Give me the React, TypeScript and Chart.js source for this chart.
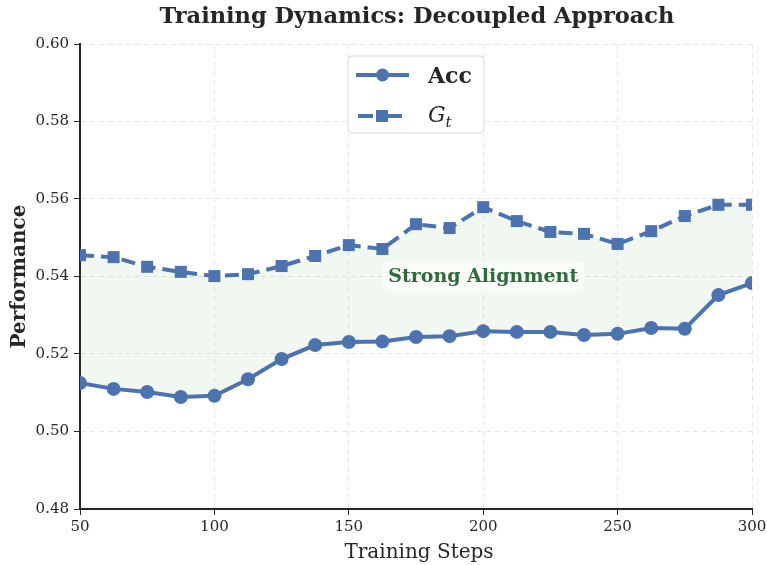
import React, { useEffect, useRef } from "react";
import { Chart, registerables } from "chart.js";

Chart.register(...registerables);

const steps = [50, 62.5, 75, 87.5, 100, 112.5, 125, 137.5, 150, 162.5, 175, 187.5, 200, 212.5, 225, 237.5, 250, 262.5, 275, 287.5, 300];
const accValues = [0.5125, 0.511, 0.5102, 0.5089, 0.5092, 0.5135, 0.5187, 0.5223, 0.5231, 0.5232, 0.5244, 0.5246, 0.5259, 0.5257, 0.5257, 0.5249, 0.5252, 0.5267, 0.5265, 0.5352, 0.5383];
const gtValues = [0.5455, 0.545, 0.5425, 0.5412, 0.5401, 0.5406, 0.5427, 0.5453, 0.5481, 0.5471, 0.5535, 0.5525, 0.5579, 0.5543, 0.5515, 0.551, 0.5484, 0.5517, 0.5556, 0.5585, 0.5585];
const yTicks = [0.48, 0.5, 0.52, 0.54, 0.56, 0.58, 0.6];
const xTicks = [50, 100, 150, 200, 250, 300];
const titleText = "Training Dynamics: Decoupled Approach";
const annotationText = "Strong Alignment";
const annotationAt = { x: 200, y: 0.54 };

const BLUE = "#4C72B0";
const SERIF = "'DejaVu Serif', 'Liberation Serif', serif";

function roundRect(ctx: CanvasRenderingContext2D, x: number, y: number, w: number, h: number, r: number) {
  ctx.beginPath();
  ctx.moveTo(x + r, y);
  ctx.lineTo(x + w - r, y);
  ctx.quadraticCurveTo(x + w, y, x + w, y + r);
  ctx.lineTo(x + w, y + h - r);
  ctx.quadraticCurveTo(x + w, y + h, x + w - r, y + h);
  ctx.lineTo(x + r, y + h);
  ctx.quadraticCurveTo(x, y + h, x, y + h - r);
  ctx.lineTo(x, y + r);
  ctx.quadraticCurveTo(x, y, x + r, y);
  ctx.closePath();
}

const overlayPlugin = {
  id: "overlay",
  afterDraw(chart: any) {
    const ctx: CanvasRenderingContext2D = chart.ctx;
    const xs = chart.scales.x;
    const ys = chart.scales.y;
    ctx.save();
    // title
    ctx.fillStyle = "#262626";
    ctx.font = `bold 22.5px ${SERIF}`;
    ctx.textAlign = "center";
    ctx.textBaseline = "alphabetic";
    ctx.fillText(titleText, (xs.left + xs.right) / 2 + 1, 23);

    // axis titles
    ctx.font = `20px ${SERIF}`;
    ctx.fillText("Training Steps", (xs.left + xs.right) / 2 + 3, 558);
    ctx.save();
    ctx.translate(25, (ys.top + ys.bottom) / 2);
    ctx.rotate(-Math.PI / 2);
    ctx.font = `bold 20px ${SERIF}`;
    ctx.fillText("Performance", 0, 0);
    ctx.restore();

    // annotation
    const ax = xs.getPixelForValue(annotationAt.x);
    const ay = ys.getPixelForValue(annotationAt.y);
    ctx.font = `bold 19px ${SERIF}`;
    ctx.textBaseline = "middle";
    const tw = ctx.measureText(annotationText).width;
    ctx.fillStyle = "rgba(255,255,255,0.7)";
    roundRect(ctx, ax - tw / 2 - 6, ay - 15, tw + 12, 30, 4);
    ctx.fill();
    ctx.fillStyle = "#2F6B3A";
    ctx.fillText(annotationText, ax, ay + 1);

    // legend
    const bx = 348, by = 56, bw = 136, bh = 77;
    ctx.fillStyle = "rgba(255,255,255,0.85)";
    roundRect(ctx, bx, by, bw, bh, 4);
    ctx.fill();
    ctx.strokeStyle = "#d9d9d9";
    ctx.lineWidth = 1;
    ctx.stroke();

    ctx.strokeStyle = BLUE;
    ctx.fillStyle = BLUE;
    ctx.lineWidth = 4;
    ctx.lineCap = "butt";
    // Acc
    ctx.beginPath();
    ctx.moveTo(356, 75);
    ctx.lineTo(409, 75);
    ctx.stroke();
    ctx.beginPath();
    ctx.arc(382.5, 75, 6.5, 0, Math.PI * 2);
    ctx.fill();
    // Gt
    ctx.beginPath();
    ctx.moveTo(358, 116);
    ctx.lineTo(373, 116);
    ctx.moveTo(387, 116);
    ctx.lineTo(402, 116);
    ctx.stroke();
    ctx.fillRect(376, 110, 12, 12);

    ctx.fillStyle = "#262626";
    ctx.textAlign = "left";
    ctx.textBaseline = "alphabetic";
    ctx.font = `bold 22px ${SERIF}`;
    ctx.fillText("Acc", 428, 83);
    ctx.font = `italic 22px ${SERIF}`;
    ctx.fillText("G", 428, 122);
    const gw = ctx.measureText("G").width;
    ctx.font = `italic 15px ${SERIF}`;
    ctx.fillText("t", 428 + gw, 127);
    ctx.restore();
  },
};

export default function App() {
  const ref = useRef<HTMLCanvasElement>(null);
  useEffect(() => {
    document.body.style.margin = "0";
    const canvas = ref.current!;
    const chart = new Chart(canvas, {
      type: "line",
      data: {
        datasets: [
          {
            label: "Acc",
            data: steps.map((s, i) => ({ x: s, y: accValues[i] })),
            borderColor: BLUE,
            backgroundColor: BLUE,
            borderWidth: 4,
            pointStyle: "circle",
            pointRadius: 7,
            pointBorderWidth: 0,
            pointBackgroundColor: BLUE,
            tension: 0,
            fill: false,
          },
          {
            label: "Gt",
            data: steps.map((s, i) => ({ x: s, y: gtValues[i] })),
            borderColor: BLUE,
            backgroundColor: "rgba(76,160,76,0.08)",
            borderWidth: 4,
            borderDash: [14, 7],
            pointStyle: "rect",
            pointRadius: 8.5,
            pointBorderWidth: 0,
            pointBackgroundColor: BLUE,
            tension: 0,
            fill: { target: 0, above: "rgba(76,160,76,0.08)", below: "rgba(76,160,76,0.08)" },
          },
        ],
      },
      options: {
        animation: false,
        responsive: false,
        maintainAspectRatio: false,
        devicePixelRatio: 1,
        layout: { padding: { top: 44, right: 15, left: 0, bottom: 0 } },
        plugins: { legend: { display: false }, title: { display: false }, tooltip: { enabled: false } },
        scales: {
          x: {
            type: "linear",
            min: 50,
            max: 300,
            afterBuildTicks: (scale: any) => {
              scale.ticks = xTicks.map((v) => ({ value: v }));
            },
            afterFit: (scale: any) => {
              scale.height = 56;
              scale.paddingRight = 0;
              scale.paddingLeft = 0;
            },
            ticks: {
              color: "#262626",
              font: { family: SERIF, size: 15 },
              padding: 3,
              maxRotation: 0,
              callback: (v: any) => String(v),
            },
            grid: { color: "#e6e6e6", tickColor: "#262626", tickLength: 6, lineWidth: 1 },
            border: { display: true, color: "#262626", width: 2, dash: [5, 4] },
          },
          y: {
            type: "linear",
            min: 0.48,
            max: 0.6,
            afterBuildTicks: (scale: any) => {
              scale.ticks = yTicks.map((v) => ({ value: v }));
            },
            afterFit: (scale: any) => {
              scale.width = 80;
              scale.paddingTop = 0;
              scale.paddingBottom = 0;
            },
            ticks: {
              color: "#262626",
              font: { family: SERIF, size: 15 },
              padding: 5,
              callback: (v: any) => Number(v).toFixed(2),
            },
            grid: { color: "#e6e6e6", tickColor: "#262626", tickLength: 6, lineWidth: 1 },
            border: { display: true, color: "#262626", width: 2, dash: [5, 4] },
          },
        },
      },
      plugins: [overlayPlugin],
    } as any);
    return () => chart.destroy();
  }, []);
  return (
    <div style={{ width: 767, height: 565 }}>
      <canvas ref={ref} width={767} height={565} style={{ width: 767, height: 565, display: "block" }} />
    </div>
  );
}
